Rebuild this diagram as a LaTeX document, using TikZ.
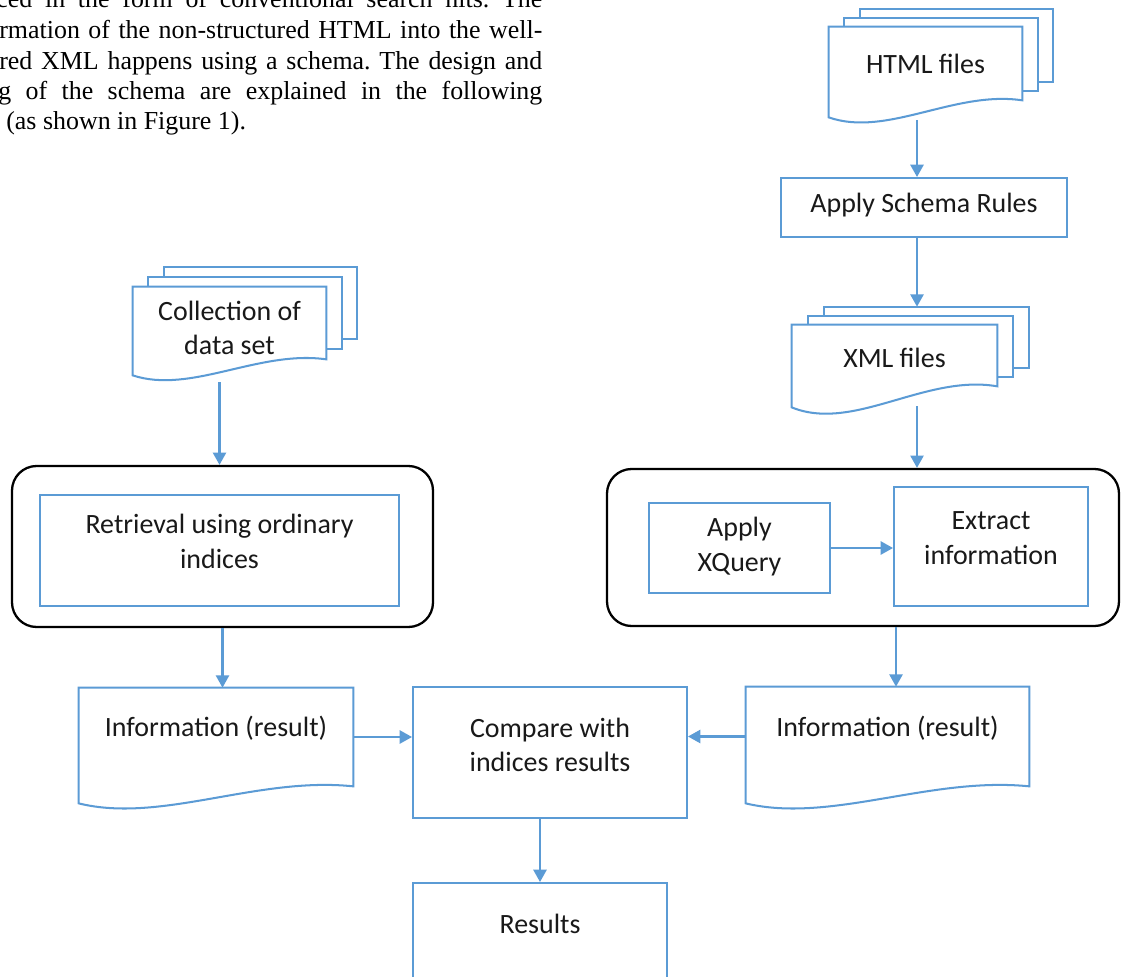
\documentclass[tikz,border=0pt]{standalone}
\usepackage{fontspec}
\setmainfont{Carlito}
\newfontfamily\paperfont{Liberation Serif}
\usetikzlibrary{arrows.meta,calc,fit,backgrounds}
\frenchspacing

\definecolor{flowblue}{RGB}{91,155,213}
\newlength{\pxu}
\setlength{\pxu}{0.02cm}
\newcommand{\diagfont}{\fontsize{15.9}{19.8}\selectfont}
\newcommand{\papersize}{\fontsize{14.75}{17.5}\selectfont}

% Dokument mit welligem Rand (#1 Knoten, #2 Wellenhoehe)
\newcommand{\docshape}[2]{%
  \draw[flow, fill=white] (#1.north west) -- (#1.north east) -- (#1.south east)
    .. controls ($(#1.south west)!0.65!(#1.south east)+(0,-0.6*#2)$)
    and ($(#1.south west)!0.3!(#1.south east)+(0,2.2*#2)$)
    .. ($(#1.south west)+(0,#2)$) -- cycle;}
% Stapel aus drei Dokumenten (#2/#3 Versatz)
\newcommand{\multidoc}[4]{%
  \foreach \k in {2,1}
    \draw[flow, fill=white] ([shift={(\k*#2,-\k*#3)}]#1.north west) rectangle ([shift={(\k*#2,-\k*#3)}]#1.south east);
  \docshape{#1}{#4}}

\tikzset{
  flow/.style={draw=flowblue, line width=1.15pt},
  box/.style={flow, rectangle, inner sep=0pt, fill=white},
  doc/.style={rectangle, inner sep=0pt},
  group/.style={draw=black, line width=1.3pt, rounded corners=14pt, inner sep=0pt},
  lbl/.style={align=center, font=\diagfont, text=black!90},
  arr/.style={flow, -{Triangle[width=7.5pt,length=7pt]}},
  paper/.style={font=\paperfont\papersize, inner sep=0pt, anchor=base west},
}

\begin{document}
\begin{tikzpicture}[x=0.02cm, y=-0.02cm]
  \useasboundingbox (0,0) rectangle (1121,976);
  \clip (0,0) rectangle (1121,976);

  % Text der Seite
  \node[paper] (txt1) at (-4,8) {\makebox[546\pxu][s]{ced in the form of conventional search hits. The}};
  \node[paper] (txt2) at (-1,39) {\makebox[543\pxu][s]{rmation of the non-structured HTML into the well-}};
  \node[paper] (txt3) at (-1,70) {\makebox[543\pxu][s]{red XML happens using a schema. The design and}};
  \node[paper] (txt4) at (-2,100) {\makebox[544\pxu][s]{g of the schema are explained in the following}};
  \node[paper] (txt5) at (6,130) {(as shown in Figure 1).};

  % rechte Spalte
  \node[doc, fit={(829,27) (1022,100)}, label={[lbl]center:HTML files}] (html) {};
  \node[box, fit={(781,178) (1067,237)}, label={[lbl,yshift=1.4pt]center:Apply Schema Rules}] (schema) {};
  \node[doc, fit={(792,325) (997,386)}, label={[lbl,yshift=-1.4pt]center:XML files}] (xml) {};

  % linke Spalte
  \node[doc, fit={(133,287) (326,359)}, label={[lbl,yshift=-2.8pt]center:{Collection of\\data set}}] (coll) {};
  \node[group, fit={(12,466) (433,627)}] (leftbox) {};
  \node[box, fit={(40,495) (399,606)}, label={[lbl,yshift=5.4pt]center:{Retrieval using ordinary\\indices}}] (retr) {};

  % rechte Gruppe
  \node[group, fit={(607,469) (1119,626)}] (rightbox) {};
  \node[box, fit={(649,503) (830,593)}, label={[lbl,yshift=0.8pt]center:{Apply\\XQuery}}] (xquery) {};
  \node[box, fit={(894,487) (1088,606)}, label={[lbl,yshift=4.8pt]center:{Extract\\information}}] (extract) {};

  % Ergebnisse
  \node[doc, fit={(79,688) (353,786)}, label={[lbl,yshift=5.1pt]center:{Information (result)}}] (infoL) {};
  \node[box, fit={(413,687) (687,818)}, label={[lbl,yshift=4.3pt]center:{Compare with\\indices results}}] (compare) {};
  \node[doc, fit={(746,687) (1029,786)}, label={[lbl,yshift=4.8pt]center:{Information (result)}}] (infoR) {};
  \node[box, fit={(413,883) (667,980)}, label={[lbl,yshift=4.5pt]center:Results}] (results) {};

  % Dokumentformen hinter dem Text
  \begin{scope}[on background layer]
    \fill[white] (0,0) rectangle (1121,976);
    \multidoc{html}{15.5}{9}{17}
    \multidoc{xml}{16}{9}{21}
    \multidoc{coll}{15.5}{10}{16}
    \docshape{infoL}{17}
    \docshape{infoR}{17}
  \end{scope}

  % Pfeile
  \coordinate (rcol) at (917,0);
  \coordinate (rout) at (896,0);
  \draw[arr] ($(html.south -| rcol)+(0,20)$) -- (schema.north -| rcol);
  \draw[arr] (schema.south -| rcol) -- ($(xml.north -| rcol)+(0,-18)$);
  \draw[arr] ($(xml.south -| rcol)+(0,20)$) -- (rightbox.north -| rcol);
  \draw[arr] ($(coll.south -| retr)+(0,23)$) -- (leftbox.north -| retr);
  \draw[arr] (xquery.east) -- (xquery.east -| extract.west);
  \draw[arr] (leftbox.south) -- (leftbox.south |- infoL.north);
  \draw[arr] (rightbox.south -| rout) -- (infoR.north -| rout);
  \draw[arr] (infoL.east) -- (infoL.east -| compare.west);
  \draw[arr] (infoR.west) -- (infoR.west -| compare.east);
  \draw[arr] (compare.south -| results) -- (results.north);
\end{tikzpicture}
\end{document}
